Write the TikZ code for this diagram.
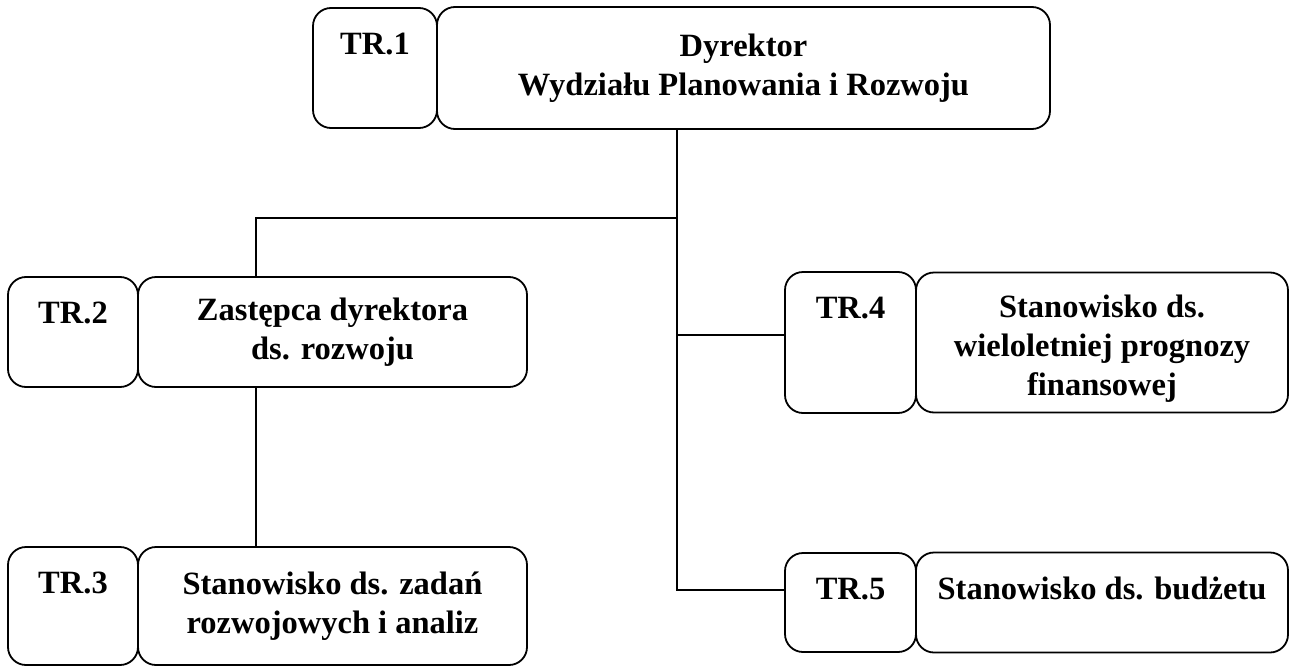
\documentclass[tikz,border=0pt]{standalone}
\usepackage{fontspec}
\setmainfont{Liberation Serif}
\usepackage{tikz}
\usetikzlibrary{positioning}

\begin{document}
\begin{tikzpicture}[
  x=1pt, y=-1pt,
  tr/.style={draw, rounded corners=18pt, line width=1.8pt, outer sep=0pt, inner sep=0pt, align=center, font=\bfseries\fontsize{32.5}{39}\selectfont},
  post/.style={draw, rounded corners=18pt, line width=1.8pt, outer sep=0pt, inner sep=0pt, align=center, font=\bfseries\fontsize{32.5}{39}\selectfont},
  link/.style={line width=1.5pt},
]
\useasboundingbox (0,0) rectangle (1292,669);

\node[tr, anchor=north, minimum width=124pt, text height=47pt, text depth=73pt] (tr1) at (375,8) {TR.1};
\node[post, right=0pt of tr1, minimum width=613pt, minimum height=122pt] (m1) {Dyrektor\\Wydziału Planowania i Rozwoju};

\node[tr, anchor=north, minimum width=130pt, text height=46pt, text depth=64pt] (tr2) at (73,277) {TR.2};
\node[post, right=0pt of tr2, minimum width=389pt, minimum height=110pt] (m2) {Zastępca dyrektora\\ds. rozwoju};

\node[tr, anchor=north, minimum width=130pt, text height=46pt, text depth=72pt] (tr3) at (73,547) {TR.3};
\node[post, right=0pt of tr3, minimum width=389pt, minimum height=118pt] (m3) {Stanowisko ds. zadań\\rozwojowych i analiz};

\node[tr, anchor=north, minimum width=131pt, text height=46pt, text depth=95pt] (tr4) at (850.5,272) {TR.4};
\node[post, right=0pt of tr4, minimum width=372pt, minimum height=140pt] (m4) {\rule{0pt}{34pt}Stanowisko ds.\\wieloletniej prognozy\\finansowej};

\node[tr, anchor=north, minimum width=131pt, text height=46pt, text depth=53pt] (tr5) at (850.5,553) {TR.5};
\node[post, right=0pt of tr5, minimum width=372pt, text height=47pt, text depth=53pt] (m5) {Stanowisko ds. budżetu};

\coordinate (jn) at (677,218);
\coordinate (j2) at (256,218);
\coordinate (j4) at (677,335);
\coordinate (j5) at (677,590);

\draw[link] (jn |- m1.south) -- (j5) -- (tr5.west |- j5);
\draw[link] (jn) -- (j2) -- (j2 |- m2.north);
\draw[link] (j2 |- m2.south) -- (j2 |- m3.north);
\draw[link] (j4) -- (tr4.west |- j4);
\end{tikzpicture}
\end{document}
